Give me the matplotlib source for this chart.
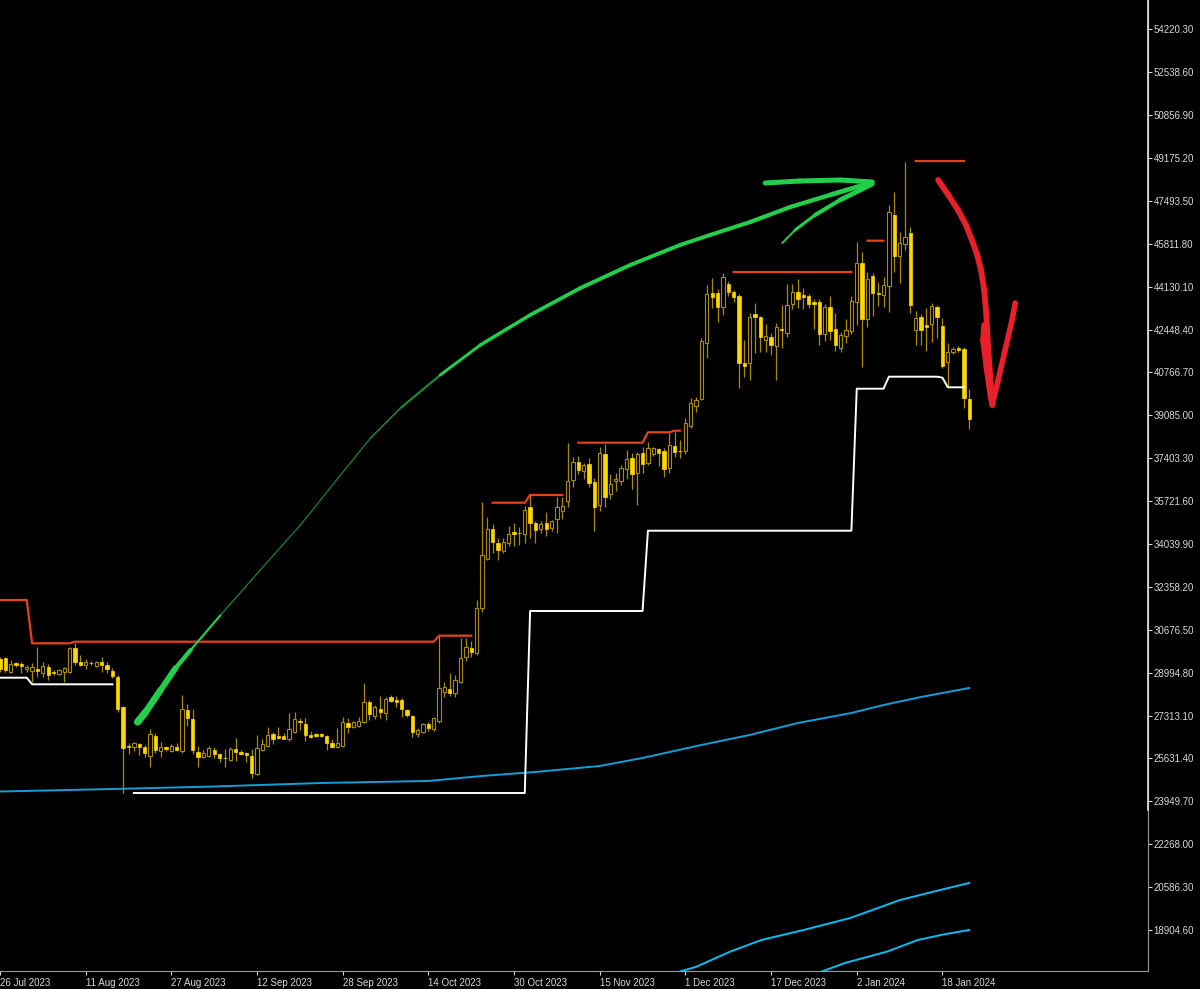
import matplotlib
matplotlib.use("Agg")
import matplotlib.pyplot as plt
import numpy as np
import pandas as pd
from matplotlib.collections import LineCollection

# MT5 style palette
BG = "#000000"
WICK = "#a88a08"       # wicks + bull outlines
GOLD = "#ffd700"       # bear body
C_RES = "#e5421c"      # resistance steps
C_SUP = "#ffffff"      # support steps
C_MA1 = "#129fd8"
C_MA2 = "#08bdf2"
C_PEN_G = "#22cf4b"
C_PEN_G_THIN = "#178f36"
C_PEN_R = "#e8202a"
TXT = "#d8d8d8"

plt.rcParams["font.family"] = ["Liberation Sans", "DejaVu Sans"]

# ---- daily BTCUSD candles, 26 Jul 2023 -> 23 Jan 2024 ----
START = "2023-07-26"
opens = [29517, 29556, 29033, 29360, 29321, 29125, 29073, 29125, 28968, 29229,
         29033, 28942, 29033, 29033, 29948, 29425, 29308, 29386, 29268, 29399,
         29295, 29073, 28837, 27635, 26119, 26066, 26184, 26092, 25740, 26511,
         25936, 26066, 25936, 26092, 25936, 27530, 27177, 25884, 25700, 25740,
         25962, 25792, 25661, 25570, 26001, 25897, 25831, 25739, 25020, 25961,
         26118, 26589, 26523, 26523, 26379, 26654, 27111, 26981, 26549, 26589,
         26576, 26510, 26249, 26092, 26118, 27007, 26850, 26902, 27046, 27856,
         27294, 27569, 27399, 28052, 27922, 27922, 27530, 27294, 26589, 26654,
         26981, 26784, 27111, 28249, 28353, 28209, 28641, 29595, 29947, 29752,
         31516, 33437, 34627, 34091, 33777, 34065, 34509, 34483, 34431, 35502,
         34875, 34614, 34875, 34653, 35006, 35345, 35737, 36548, 37267, 36914,
         37175, 36483, 35567, 37567, 36000, 36522, 36522, 36966, 37423, 36809,
         37620, 37201, 37554, 37750, 37685, 37005, 37894, 37698, 37698, 38665,
         39463, 39711, 41907, 43867, 43867, 43344, 44233, 43906, 43775, 41122,
         41122, 43044, 42926, 42037, 42168, 41802, 42455, 42325, 43449, 43932,
         43802, 43775, 43514, 43540, 42273, 43318, 42455, 41710, 42194, 42403,
         43540, 45043, 42847, 44547, 43893, 43802, 44155, 46939, 45331, 45788,
         46220, 42429, 42952, 42625, 42664, 43344, 42599, 41162, 41554, 41710,
         41684, 39711]
highs = [29621, 29620, 29491, 29425, 29425, 29295, 29360, 30014, 29425, 29321,
         29099, 29138, 29203, 30014, 30170, 29687, 29517, 29465, 29452, 29621,
         29425, 29164, 28903, 27687, 26249, 26288, 26223, 26158, 26785, 26641,
         26288, 26132, 26184, 26223, 28118, 27765, 27556, 26119, 25962, 26119,
         26092, 25857, 26001, 26066, 26419, 25962, 25897, 25987, 26549, 26379,
         26850, 26680, 26876, 26615, 27399, 27464, 27203, 27229, 26719, 26628,
         26615, 26549, 26379, 26811, 27268, 27203, 27111, 27268, 28575, 27922,
         27726, 28079, 28052, 28118, 28079, 27987, 27556, 27334, 26811, 27033,
         27072, 27268, 30444, 28614, 28967, 28902, 30340, 30340, 30248, 31843,
         35672, 35110, 34823, 34261, 34261, 34744, 34849, 34718, 35528, 35959,
         34940, 34953, 35280, 34979, 35868, 35894, 38012, 37463, 37489, 37228,
         37397, 36613, 37829, 37959, 36783, 36809, 37136, 37724, 37620, 37659,
         37829, 38051, 37855, 37816, 37790, 38378, 38443, 38116, 38966, 39750,
         39789, 42103, 44194, 44455, 44024, 44677, 44364, 43998, 43841, 42037,
         43109, 43475, 42978, 42651, 42299, 42691, 43410, 44233, 44220, 44416,
         44063, 43841, 43632, 43632, 43449, 43775, 43083, 42338, 42848, 43775,
         45893, 45501, 44717, 44677, 44298, 44494, 47330, 47853, 46285, 49030,
         46455, 43187, 43043, 43279, 43501, 43409, 42887, 41906, 41776, 41802,
         41749, 40103]
lows = [29033, 29030, 28994, 29203, 28968, 29033, 28641, 28837, 28837, 28706,
        28903, 28903, 28641, 28994, 29295, 29255, 29125, 29308, 29229, 29033,
        28994, 28772, 27465, 24263, 25805, 25936, 25766, 25700, 25282, 25857,
        25700, 25936, 25897, 25936, 25857, 26916, 25805, 25282, 25635, 25700,
        25635, 25504, 25308, 25543, 25543, 25766, 25504, 24850, 24981, 25922,
        26092, 26197, 26405, 26379, 26327, 26615, 26745, 26327, 26419, 26484,
        26470, 25961, 26027, 26027, 26092, 26615, 26811, 26876, 27007, 27137,
        27164, 27203, 27137, 27830, 27660, 27242, 27268, 26484, 26484, 26615,
        26719, 26719, 27007, 28026, 28079, 28052, 28575, 29464, 29595, 29686,
        31385, 33411, 33699, 33411, 33672, 33960, 33960, 33999, 34091, 34261,
        34065, 34483, 34352, 34561, 34483, 35006, 35476, 36286, 36783, 36574,
        36286, 34562, 35345, 35476, 35790, 36130, 36352, 36574, 36182, 35567,
        36809, 37136, 37489, 37097, 36678, 36835, 37463, 37398, 37567, 38574,
        39227, 39685, 41318, 43279, 42756, 43017, 43762, 43540, 40142, 40599,
        40469, 41514, 41580, 41553, 41449, 40469, 41710, 42168, 43240, 43279,
        43240, 43279, 42468, 41841, 42011, 42037, 41606, 41580, 41933, 42272,
        42625, 40965, 42560, 42978, 43370, 43344, 43148, 44717, 44285, 45566,
        43083, 41841, 41841, 41606, 41946, 42103, 40926, 40207, 41488, 41580,
        39358, 38534]
closes = [29125, 29099, 29334, 29282, 29269, 29229, 29203, 29073, 29268, 28903,
          28968, 29099, 29164, 29948, 29425, 29295, 29412, 29360, 29399, 29308,
          29125, 28877, 27569, 26027, 26066, 26223, 26092, 25831, 26589, 25962,
          26066, 26001, 26119, 25962, 27569, 27204, 25962, 25700, 25857, 26040,
          25805, 25661, 25635, 26001, 25884, 25805, 25779, 25046, 26053, 26197,
          26549, 26379, 26445, 26405, 26771, 27164, 27072, 26549, 26484, 26523,
          26497, 26249, 26092, 26249, 27072, 26876, 27046, 27111, 27830, 27373,
          27634, 27464, 27961, 27882, 27856, 27556, 27334, 26680, 26745, 26968,
          26811, 27203, 28379, 28418, 28209, 28706, 29555, 30013, 29817, 31516,
          33607, 34627, 34130, 33803, 34130, 34431, 34431, 34457, 35371, 34849,
          34588, 34810, 34614, 34953, 35476, 35541, 36509, 37241, 36940, 37136,
          36443, 35502, 37594, 35894, 36378, 36574, 37006, 37384, 36783, 37567,
          37175, 37816, 37790, 37593, 36979, 37920, 37659, 37685, 38770, 39554,
          39685, 42000, 43841, 43736, 43318, 44521, 43932, 43736, 41122, 41017,
          42926, 42926, 42168, 42194, 41841, 42534, 42416, 43410, 43932, 43645,
          43736, 43449, 43449, 42273, 43345, 42403, 41841, 42233, 42429, 43566,
          45069, 42847, 44429, 43893, 43841, 44194, 47069, 45331, 45853, 46089,
          43409, 42913, 42429, 42560, 43370, 42952, 41017, 41580, 41671, 41645,
          39750, 38927]

# step indicators: (first bar, last bar, level)
res_steps = [(0, 5, 31843), (6, 13, 30145), (14, 81, 30208), (82, 88, 30444),
             (92, 98, 35658), (99, 105, 35960),
             (108, 120, 38011), (121, 125, 38419), (126, 127, 38481),
             (137, 159, 44704), (162, 165, 45931), (171, 180, 49056)]
sup_steps = [(0, 5, 28796), (6, 21, 28538),
             (25, 98, 24275), (99, 120, 31412), (121, 159, 34560),
             (160, 165, 40128), (166, 175, 40599), (176, 176, 40560), (177, 180, 40183)]

# moving averages, read at sample bars
ma1_bars = [0, 21, 40, 60, 80, 90, 100, 112, 120, 131, 140, 149, 159, 165, 172, 181]
ma1_vals = [24334, 24432, 24530, 24668, 24747, 24943, 25100, 25335, 25649, 26159,
            26551, 27020, 27412, 27726, 28040, 28393]
ma2_bars = [123.5, 130.0, 136.4, 142.2, 150.0, 158.8, 168.1, 175.6, 181]
ma2_vals = [17060, 17460, 18060, 18512, 18900, 19375, 20081, 20473, 20747]
ma3_bars = [150.7, 157.8, 165.7, 171.4, 176.0, 181]
ma3_vals = [17060, 17610, 18060, 18512, 18720, 18904]

# hand-drawn pen marks (bar position, price)
pen_g_bars = [25.7, 27.2, 30.0, 32.8, 35.6, 41.2, 48.6, 56.1, 63.6, 69.2, 74.8, 82.2,
              89.7, 99.0, 108.4, 117.7, 127.0, 132.6, 140.1, 147.6, 155.0, 162.5]
pen_g_prices = [27059, 27451, 28314, 29176, 29882, 31254, 33019, 34783, 36743, 38194,
                39370, 40664, 41842, 43018, 44077, 44979, 45763, 46155, 46665, 47253,
                47724, 48194]
pen_g_width = [5.5, 5, 4.5, 4, 2.2, 0.9, 0.8, 0.8, 0.8, 0.9, 1.2, 1.8, 2.4, 2.6, 2.8,
               2.8, 2.8, 2.8, 3.0, 3.0, 3.2, 3.6]
head_top_bars = [142.9, 149.4, 156.9, 162.9]
head_top_prices = [48194, 48272, 48311, 48233]
head_low_bars = [146.1, 148.5, 152.2, 156.9, 162.9]
head_low_prices = [45841, 46351, 46939, 47527, 48154]
head_low_width = [1.0, 1.8, 2.6, 3.2, 3.6]

pen_r_bars = [175.2, 177.1, 178.9, 180.4, 181.5, 182.5, 183.2, 183.8, 184.2, 184.5,
              184.9, 185.3]
pen_r_prices = [48311, 47723, 47135, 46547, 45959, 45370, 44782, 43998, 43018, 41842,
                40665, 39489]
r_left_bars = [183.8, 183.6, 184.3, 185.1]
r_left_prices = [42626, 42038, 40861, 39685]
r_right_bars = [185.3, 186.4, 187.7, 189.0, 189.6]
r_right_prices = [39489, 40469, 41645, 42822, 43488]

# scale
Y_TICK0, Y_STEP, N_YT = 18904.60, 1681.70, 22
Y_LIM = (17296, 55369)
X_LIM = (0.093, 214.39)
DATE_EVERY = 16


def stepped(segs, n):
    arr = np.full(n, np.nan)
    for a, b, v in segs:
        arr[a:b + 1] = v
    return arr


def pen(ax, xs, ys, widths, colors, z=8):
    pts = np.column_stack([xs, ys])
    segs = [pts[i:i + 2] for i in range(len(pts) - 1)]
    w = [(widths[i] + widths[i + 1]) / 2 for i in range(len(pts) - 1)]
    lc = LineCollection(segs, linewidths=w, colors=colors, capstyle="round",
                        joinstyle="round", zorder=z)
    ax.add_collection(lc)


o = np.array(opens, float)
h = np.array(highs, float)
lo = np.array(lows, float)
c = np.array(closes, float)
n = len(c)
idx = np.arange(n)
dates = pd.date_range(START, periods=n, freq="D")

fig = plt.figure(figsize=(12, 9.89), dpi=100)
fig.patch.set_facecolor(BG)
ax = fig.add_axes([0, 18 / 989, 1148 / 1200, 971 / 989])
ax.set_facecolor(BG)

# moving averages
ax.plot(ma1_bars, ma1_vals, color=C_MA1, lw=1.4, zorder=1)
ax.plot(ma2_bars, ma2_vals, color=C_MA2, lw=1.4, zorder=1)
ax.plot(ma3_bars, ma3_vals, color=C_MA2, lw=1.4, zorder=1)

# candles
ax.vlines(idx, lo, h, colors=WICK, lw=0.9, zorder=2)
bull = c >= o
bear = ~bull
ax.bar(idx[bull], (c - o)[bull], bottom=o[bull], width=0.62, facecolor=BG,
       edgecolor=WICK, linewidth=0.8, zorder=3)
ax.bar(idx[bear], (o - c)[bear], bottom=c[bear], width=0.62, facecolor=GOLD,
       edgecolor=GOLD, linewidth=0.5, zorder=3)

# step lines
ax.plot(idx, stepped(res_steps, n), color=C_RES, lw=1.6, zorder=4)
ax.plot(idx, stepped(sup_steps, n), color=C_SUP, lw=1.4, zorder=4)

# pen marks
g_cols = [C_PEN_G if (wa + wb) / 2 > 1.5 else C_PEN_G_THIN
          for wa, wb in zip(pen_g_width[:-1], pen_g_width[1:])]
pen(ax, pen_g_bars, pen_g_prices, pen_g_width, g_cols)
pen(ax, head_top_bars, head_top_prices, [3.6] * len(head_top_bars), C_PEN_G)
pen(ax, head_low_bars, head_low_prices, head_low_width, C_PEN_G)
pen(ax, pen_r_bars, pen_r_prices, [4.2] * len(pen_r_bars), C_PEN_R)
pen(ax, r_left_bars, r_left_prices, [4.2] * len(r_left_bars), C_PEN_R)
pen(ax, r_right_bars, r_right_prices, [4.0] * len(r_right_bars), C_PEN_R)

ax.set_xlim(*X_LIM)
ax.set_ylim(*Y_LIM)

# price axis on the right
yt = [Y_TICK0 + Y_STEP * k for k in range(N_YT)]
ax.yaxis.tick_right()
ax.set_yticks(yt)
ax.set_yticklabels([f"{v:.2f}" for v in yt])
ax.tick_params(axis="y", colors=TXT, labelsize=7, length=3, width=0.8, pad=1)

# date axis
xt = idx[::DATE_EVERY]
ax.set_xticks(xt)
ax.set_xticklabels([f"{d.day} {d.strftime('%b %Y')}" for d in dates[::DATE_EVERY]])
ax.tick_params(axis="x", colors=TXT, labelsize=7, length=3, width=0.8, pad=2)
for t in ax.get_xticklabels():
    t.set_ha("left")

for side in ("left", "top"):
    ax.spines[side].set_visible(False)
ax.spines["bottom"].set_color("#9a9a9a")
ax.spines["right"].set_color("#9a9a9a")
ax.plot([1, 1], [0.166, 1], transform=ax.transAxes, color="#e6e6e6", lw=1.2,
        clip_on=False, zorder=10)

fig.savefig("out.png", facecolor=BG, dpi=100)
